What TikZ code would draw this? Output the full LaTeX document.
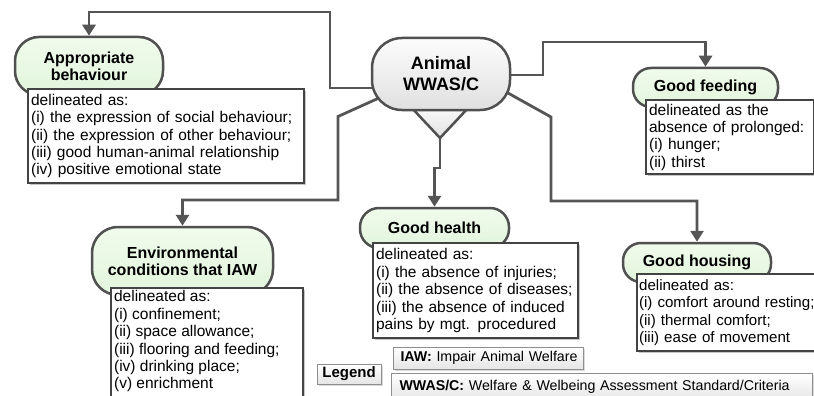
\documentclass[tikz,border=0pt]{standalone}
\usepackage{fontspec}
\setmainfont{Liberation Sans}
\usetikzlibrary{arrows.meta,shadows}
\definecolor{edgegray}{HTML}{555555}
\definecolor{rimgray}{HTML}{505050}
\definecolor{boxrim}{HTML}{434343}
\definecolor{mint}{HTML}{E2F5DC}
\definecolor{mintlight}{HTML}{F0FBEC}
\definecolor{hubtop}{HTML}{FCFCFC}
\definecolor{hubbot}{HTML}{E0E0E0}
\definecolor{legrim}{HTML}{8E8E8E}
\pgfdeclarelayer{bg}
\pgfsetlayers{bg,main}

\begin{document}
\begin{tikzpicture}[x=1pt,y=-1pt,
  conn/.style={draw=edgegray, line width=2.8pt, -{Triangle[width=13pt,length=11pt]}},
  pill/.style={draw=rimgray, line width=2.5pt, top color=mintlight, bottom color=mint,
    align=center, inner sep=0pt, font=\bfseries\fontsize{16}{17}\selectfont},
  descbox/.style={draw=boxrim, line width=2.2pt, fill=white, anchor=north west, align=left,
    inner xsep=3pt, inner ysep=0pt, font=\fontsize{15.5}{17.4}\selectfont,
    drop shadow={shadow xshift=2pt, shadow yshift=-2pt, fill=black!22, opacity=1}},
  legbox/.style={draw=legrim, line width=1pt, top color=white, bottom color=black!10,
    inner sep=0pt, font=\fontsize{14.2}{16}\selectfont,
    drop shadow={shadow xshift=1.5pt, shadow yshift=-1.5pt, fill=black!15, opacity=1}}
]
\useasboundingbox (0,0) rectangle (814,396);
\clip (0,0) rectangle (814,396);

% central hub: pointer triangle below a rounded capsule
\coordinate (tip) at (440,138);
\path[draw=rimgray, line width=2.5pt, top color=hubtop, bottom color=hubbot]
  (410,106) -- (470,106) -- (tip) -- cycle;
\node[pill, top color=hubtop, bottom color=hubbot, rounded corners=30pt,
  minimum width=138pt, minimum height=72pt, font=\bfseries\fontsize{18}{21}\selectfont]
  (animal) at (441,74) {Animal\\WWAS/C};

% criterion capsules
\node[pill, rounded corners=24pt, minimum width=148pt, minimum height=58pt]
  (ab) at (89,66) {Appropriate\\behaviour};
\node[pill, rounded corners=18pt, minimum width=145pt, minimum height=39pt]
  (gf) at (705.5,87.5) {Good feeding};
\node[pill, rounded corners=19pt, minimum width=149pt, minimum height=40pt]
  (gh) at (434.5,228) {Good health};
\node[pill, rounded corners=18pt, minimum width=148pt, minimum height=39pt]
  (gho) at (697,262.5) {Good housing};
\node[pill, rounded corners=26pt, minimum width=181pt, minimum height=68pt]
  (env) at (182.5,261) {Environmental\\conditions that IAW};

% description boxes
\node[descbox, text width=270pt, minimum height=94pt] (abd) at (27,88)
  {delineated as:\\(i) the expression of social behaviour;\\(ii) the expression of other behaviour;\\(iii) good human-animal relationship\\(iv) positive emotional state};
\node[descbox, text width=162pt, minimum height=74pt] (gfd) at (645,99)
  {delineated as the\\absence of prolonged:\\(i) hunger;\\(ii) thirst};
\node[descbox, text width=199pt, minimum height=95pt] (ghd) at (372,242)
  {delineated as:\\(i) the absence of injuries;\\(ii) the absence of diseases;\\(iii) the absence of induced\\pains by mgt. procedured};
\node[descbox, text width=196pt, minimum height=77pt, inner xsep=2pt,
  font=\fontsize{15.1}{17.4}\selectfont] (ghod) at (636,273)
  {delineated as:\\(i) comfort around resting;\\(ii) thermal comfort;\\(iii) ease of movement};
\node[descbox, inner ysep=2.5pt] (envd) at (110,287)
  {\parbox[t][122pt][t]{186pt}{\raggedright delineated as:\\(i) confinement;\\(ii) space allowance;\\(iii) flooring and feeding;\\(iv) drinking place;\\(v) enrichment}};

% legend
\node[legbox, minimum width=64pt, minimum height=20pt, font=\bfseries\fontsize{15}{16}\selectfont]
  (legend) at (349,374) {Legend};
\node[legbox, anchor=west, minimum height=22pt, text width=182pt, inner xsep=4pt, align=left]
  (iaw) at (393,358) {\hspace*{3pt}\textbf{IAW:} Impair Animal Welfare};
\node[legbox, anchor=north west, minimum height=27pt, text width=405pt, inner xsep=8pt, align=left]
  (wwas) at (391,373) {\textbf{WWAS/C:} Welfare \& Welbeing Assessment Standard/Criteria};

% connectors from the hub
\begin{pgfonlayer}{bg}
\draw[conn] ([yshift=-14pt]animal.center) -| (330,12) -| (ab.north);
\draw[conn] ([yshift=-1pt]animal.center) -| (543,42) -| (gf.north);
\draw[conn] ([xshift=-41pt,yshift=-14.5pt]animal.center) -- (338,116.5) -- (338,200) -| (env.north);
\draw[conn] ([xshift=49pt,yshift=-9pt]animal.center) -- (551,117) -- (551,201) -| (gho.north);
\draw[conn] (tip) -- ++(0,30) -| (gh.north);
\end{pgfonlayer}
\end{tikzpicture}
\end{document}
